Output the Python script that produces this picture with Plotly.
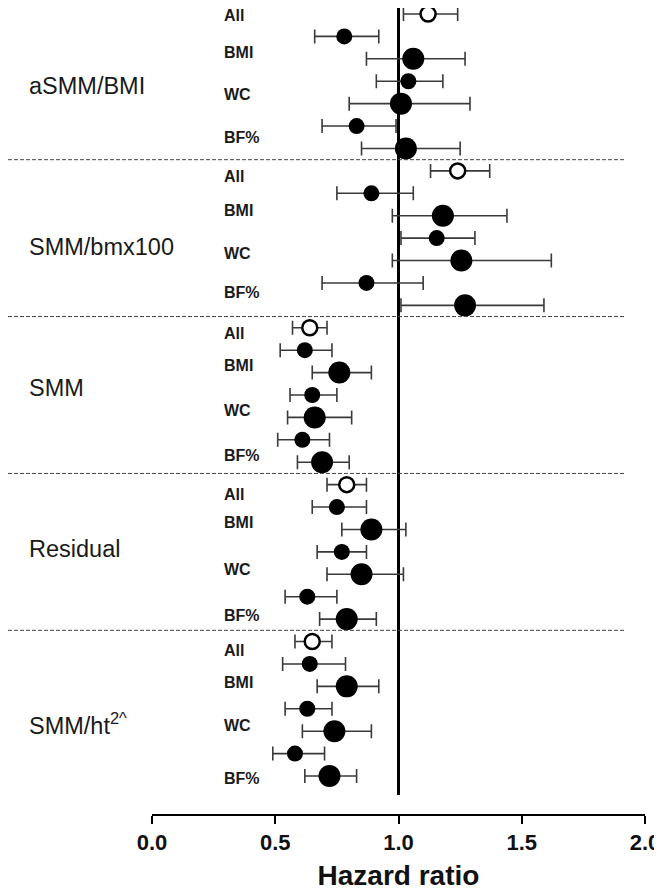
import plotly.graph_objects as go

# ---- data ----
groups = ["aSMM/BMI", "SMM/bmx100", "SMM", "Residual", "SMM/ht<sup>2^</sup>"]
sub_labels = ["All", "BMI", "WC", "BF%"]
# row order within each group: All, BMI(a), BMI(b), WC(a), WC(b), BF(a), BF(b)
row_kind = ["all", "small", "large", "small", "large", "small", "large"]

hr = [
    [1.12, 0.78, 1.06, 1.04, 1.01, 0.83, 1.03],
    [1.24, 0.89, 1.18, 1.155, 1.255, 0.87, 1.27],
    [0.64, 0.62, 0.76, 0.65, 0.66, 0.61, 0.69],
    [0.79, 0.75, 0.89, 0.77, 0.85, 0.63, 0.79],
    [0.65, 0.64, 0.79, 0.63, 0.74, 0.58, 0.72],
]
lower = [
    [1.02, 0.66, 0.87, 0.91, 0.80, 0.69, 0.85],
    [1.13, 0.75, 0.975, 1.01, 0.975, 0.69, 1.01],
    [0.57, 0.52, 0.65, 0.56, 0.55, 0.51, 0.59],
    [0.71, 0.65, 0.77, 0.67, 0.71, 0.54, 0.68],
    [0.58, 0.53, 0.67, 0.54, 0.61, 0.49, 0.62],
]
upper = [
    [1.24, 0.92, 1.27, 1.18, 1.29, 0.99, 1.25],
    [1.37, 1.06, 1.44, 1.31, 1.62, 1.10, 1.59],
    [0.71, 0.73, 0.89, 0.75, 0.81, 0.72, 0.80],
    [0.87, 0.87, 1.03, 0.87, 1.02, 0.75, 0.91],
    [0.73, 0.785, 0.92, 0.73, 0.89, 0.70, 0.83],
]
x_ticks = [0.0, 0.5, 1.0, 1.5, 2.0]
x_tick_text = ["0.0", "0.5", "1.0", "1.5", "2.0"]
x_title = "Hazard ratio"

# ---- layout helpers (positions, not data) ----
n_rows = 7
label_offsets = [
    [0.05, 1.7, 3.6, 5.5],
    [0.26, 1.78, 3.7, 5.44],
    [0.24, 1.69, 3.67, 5.68],
    [0.46, 1.7, 3.77, 5.85],
    [0.4, 1.84, 3.73, 6.1],
]
group_label_offsets = [3.2, 3.38, 2.67, 2.87, 3.7]

FONT = "Liberation Sans"
styles = {
    "all": dict(size=15, color="white", line=dict(color="black", width=2.5)),
    "small": dict(size=16, color="black", line=dict(color="black", width=0)),
    "large": dict(size=22, color="black", line=dict(color="black", width=0)),
}

fig = go.Figure()
for kind in ["small", "large", "all"]:
    xs, ys, ep, em = [], [], [], []
    for g in range(len(groups)):
        for i, k in enumerate(row_kind):
            if k != kind:
                continue
            r = g * n_rows + i
            xs.append(hr[g][i])
            ys.append(r)
            ep.append(upper[g][i] - hr[g][i])
            em.append(hr[g][i] - lower[g][i])
    fig.add_trace(go.Scatter(
        x=xs, y=ys, mode="markers",
        marker=styles[kind],
        error_x=dict(type="data", array=ep, arrayminus=em, symmetric=False,
                     color="#3a3a3a", thickness=1.6, width=7),
        showlegend=False, hoverinfo="x",
    ))

# page body has an 8px default margin: compensate so the picture lands in place
OFF = 8
W, H = 662 - OFF, 891 - OFF
L, R = 152 - OFF, 17
T = 0
axis_y = 814 - OFF          # figure coords of the x-axis line
B = H - axis_y
pw = W - L - R

annotations = []
for g, name in enumerate(groups):
    annotations.append(dict(
        x=(27 - 152) / pw, xref="paper", y=g * n_rows + group_label_offsets[g], yref="y",
        text=name, showarrow=False, xanchor="left", yanchor="middle",
        font=dict(family=FONT, size=23.5, color="#1a1a1a")))
    for j, s in enumerate(sub_labels):
        annotations.append(dict(
            x=(222 - 152) / pw, xref="paper", y=g * n_rows + label_offsets[g][j], yref="y",
            text="<b>%s</b>" % s, showarrow=False, xanchor="left", yanchor="middle",
            font=dict(family=FONT, size=16, color="#1a1a1a")))

shapes = []
for g in range(1, len(groups)):
    yv = g * n_rows - 0.5
    shapes.append(dict(type="line", xref="paper", yref="y",
                       x0=-(152 - OFF) / pw, x1=(625 - 152) / pw, y0=yv, y1=yv,
                       line=dict(color="#444", width=1, dash="4px,2px")))
shapes.append(dict(type="line", xref="x", yref="y", x0=1, x1=1,
                   y0=-0.49, y1=len(groups) * n_rows - 1 + 0.85,
                   line=dict(color="black", width=3), layer="below"))

n_total = len(groups) * n_rows
row_px = (776 - 14) / (n_total - 1)
y_top = -(14 - OFF) / row_px
y_bot = (n_total - 1) + (814 - 776) / row_px

fig.update_layout(
    width=W, height=H,
    margin=dict(l=L, r=R, t=T, b=B, pad=0),
    paper_bgcolor="white", plot_bgcolor="white",
    annotations=annotations, shapes=shapes,
    xaxis=dict(range=[0, 2], tickvals=x_ticks, ticktext=x_tick_text,
               showgrid=False, zeroline=False, showline=True,
               linecolor="black", linewidth=2, ticks="outside", ticklen=8,
               tickwidth=2, tickcolor="black",
               tickfont=dict(family=FONT, size=22, color="#111", weight="bold"),
               title=dict(text="<b>%s</b>" % x_title, standoff=11,
                          font=dict(family=FONT, size=28, color="#111")),
               automargin=False),
    yaxis=dict(range=[y_bot, y_top], visible=False, showgrid=False, zeroline=False),
)

fig.write_html("out.html")
